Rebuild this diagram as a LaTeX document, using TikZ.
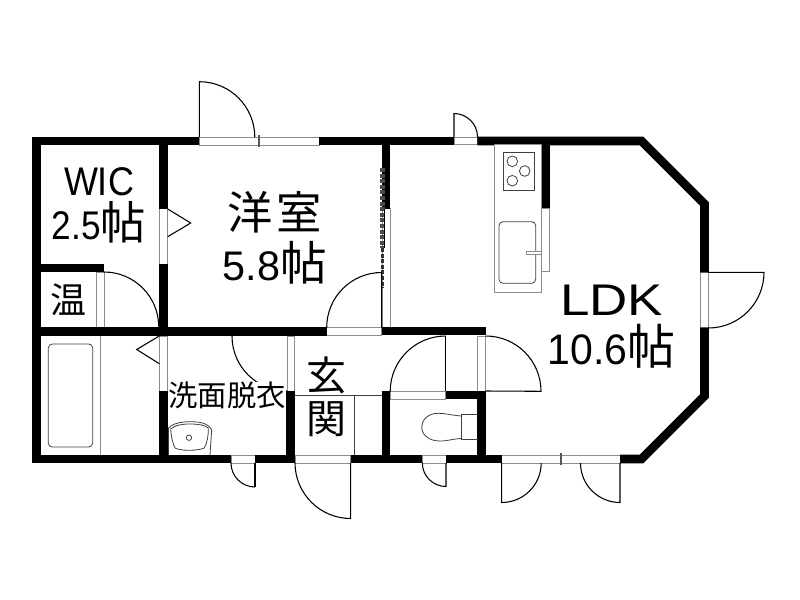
\documentclass[tikz,border=0pt]{standalone}
\usepackage{fontspec}
\setmainfont{Liberation Sans}
\newfontfamily\cjk{Noto Sans CJK JP}
\usepackage{graphicx}
\newcommand{\jtext}[2]{{\cjk\fontsize{#1}{#1}\selectfont #2}}

\tikzset{
  wall/.style={line width=6.4pt,line join=miter},
  strip/.style={draw=framegray,fill=white,line width=0.75pt},
  swing/.style={black,line width=0.8pt},
  fixture/.style={draw=framegray,line width=0.75pt},
  thinline/.style={black!75,line width=0.6pt},
  roomlabel/.style={align=center,inner sep=0pt}
}
\definecolor{framegray}{RGB}{140,140,140}

\begin{document}
\begin{tikzpicture}[x=0.75pt,y=0.75pt,yscale=-1,xscale=1]
\path [fill=white,use as bounding box] (0,0) rectangle (800,600);

%Door and window strips
\draw [strip] (199.3,137) rectangle (319,145);
\draw [strip] (159.5,208.5) rectangle (167.5,264);
\draw [strip] (96,272) rectangle (104,327);
\draw [strip] (159.5,336) rectangle (167.5,391);
\draw [strip] (287,336) rectangle (294.3,391);
\draw [strip] (326.7,327.5) rectangle (381.7,335);
\draw [strip] (382,208.5) rectangle (390.5,327.5);
\draw [strip] (390,391) rectangle (445.7,399);
\draw [strip] (477.7,336) rectangle (485.5,391);
\draw [strip] (454,137) rectangle (477.3,144.5);
\draw [strip] (541.7,208) rectangle (549,271.7);
\draw [strip] (700.7,272.3) rectangle (708,327.7);
\draw [strip] (231,455) rectangle (255,463);
\draw [strip] (295,455) rectangle (350.7,463);
\draw [strip] (422.3,455) rectangle (446,463);
\draw [strip] (501.7,455) rectangle (620,463);

%Outer walls
\draw [wall] (199.3,141) -- (36.5,141) -- (36.5,459) -- (231,459);
\draw [wall] (319,141) -- (454,141);
\draw [wall] (477.3,141) -- (641.5,141) -- (704.5,204) -- (704.5,272.3);
\draw [wall] (704.5,327.7) -- (704.5,396) -- (641.5,459) -- (620,459);
\draw [wall] (255,459) -- (295,459);
\draw [wall] (350.7,459) -- (422.3,459);
\draw [wall] (446,459) -- (501.7,459);

%Inner walls
\draw [wall] (163.5,141) -- (163.5,208.5);
\draw [wall] (163.5,264) -- (163.5,336);
\draw [wall] (163.5,391) -- (163.5,459);
\draw [wall] (32,268) -- (104,268);
\draw [wall] (36.5,331.5) -- (326.7,331.5);
\draw [wall] (381.7,331.2) -- (485.7,331.2);
\draw [wall] (290.5,391) -- (290.5,459);
\draw [wall] (386,141) -- (386,208.5);
\draw [wall] (386,391) -- (386,459);
\draw [wall] (445.7,395) -- (481.7,395) -- (481.7,459);
\draw [wall] (545.5,141) -- (545.5,208);

%Sliding door
\draw [black!70,line width=3.2pt,dash pattern=on 3pt off 1.2pt] (382.5,168) -- (382.5,248);
\draw [black,line width=0.8pt] (384.7,208.5) -- (384.7,248);
\draw [black!80,line width=2pt,dash pattern=on 3pt off 1.2pt] (382.3,248) -- (382.3,288);
\draw [swing] (381.7,288) -- (381.7,327);

%Door swings
\draw [swing] (199.3,137) -- (199.3,81.7) arc (-90:0:55.5);
\draw [swing] (454,137) -- (454,113.5) arc (-90:0:23.5);
\draw [swing] (326.7,327.5) arc (180:270:55) -- (381.7,327.5);
\draw [swing] (167.7,209) -- (190.7,223) -- (167.7,236.7);
\draw [swing] (159.3,336) -- (136.7,349.5) -- (159.3,363.7);
\draw [swing] (104,272) arc (-90:0:54.7);
\draw [swing] (232,336) arc (180:90:55);
\draw [swing] (445.7,336) arc (270:180:55.5);
\draw [swing] (445.7,336) -- (445.7,391);
\draw [swing] (485.7,336) arc (-90:0:55.3) -- (485.7,391);
\draw [swing] (708,272.3) -- (764,272.3) arc (0:90:55.7);
\draw [swing] (255,486.5) -- (255,463);
\draw [swing] (231,463) arc (180:90:24);
\draw [swing] (350.7,463) -- (350.7,518.5) arc (90:180:55.7);
\draw [swing] (446,463) -- (446,486.5) arc (90:180:23.7);
\draw [swing] (501.7,463) -- (501.7,502.5) arc (90:0:39.5);
\draw [swing] (620,463) -- (620,502.5) arc (90:180:39.5);

%Window ticks
\draw [swing,framegray!60!black] (259,135) -- (259,147);
\draw [swing,framegray!60!black] (561,453) -- (561,465);

%Entrance step and bath partition
\draw [thinline] (294.3,395.3) -- (381.7,395.3);
\draw [thinline] (354.3,395.3) -- (354.3,455);
\draw [fixture] (100,336) -- (100,455);
\draw [thinline,rounded corners=3pt] (48.3,344) rectangle (92.7,447);

%Kitchen
\draw [fixture,fill=white] (494.7,144.5) rectangle (541.5,292.3);
\draw [thinline] (503.3,152) rectangle (534.3,190);
\draw [thinline] (512.3,161.3) circle (5.3);
\draw [thinline] (524.7,171) circle (5.3);
\draw [thinline] (512.3,180.7) circle (5.3);
\draw [thinline,rounded corners=3pt] (499,221.7) rectangle (535.7,283.3);
\draw [fixture,fill=white] (526.7,251) rectangle (541.3,254.7);

%Toilet
\draw [thinline] (477.7,414.7) -- (461,414.7) -- (461,439.3) -- (477.7,439.3);
\draw [thinline] (461,416) .. controls (450,415) and (446,413.3) .. (438,413.3) .. controls (428,413.3) and (421.7,420) .. (421.7,427) .. controls (421.7,435) and (429,441) .. (440,441) .. controls (448,441) and (452,439) .. (461,438.5);

%Wash basin
\draw [thinline] (168.5,455) -- (168.5,428) .. controls (172,424) and (180,421.7) .. (190,421.7) .. controls (200,421.7) and (208,423) .. (211.7,430) -- (210,455);
\draw [thinline] (170.7,429) .. controls (175,425) and (182,424) .. (190,424) .. controls (198,424) and (205,425) .. (208.3,428) .. controls (208.5,436) and (207,443) .. (204.3,448) .. controls (198,451) and (180,451) .. (175,448) .. controls (172.5,443) and (171,436) .. (170.7,429);
\draw [thinline] (189,437.7) circle (2.7);

% Text nodes
\node [roomlabel,font=\fontsize{30}{33}\selectfont] (wic) at (99,205) {\scalebox{.9}[1]{WIC}\\\scalebox{.88}[1]{2.5}\jtext{34}{帖}};
\node [roomlabel,font=\fontsize{31}{38}\selectfont] (room) at (275,238) {\jtext{34}{洋\hspace{3pt}室}\\5.8\jtext{35}{帖}};
\node [roomlabel,font=\fontsize{32}{36.75}\selectfont] (ldk) at (611.5,327) {\scalebox{1.24}[1.04]{LDK}\\\scalebox{.96}[1]{10.6}\jtext{36}{帖}};
\node [roomlabel,font=\cjk\fontsize{27}{30}\selectfont] (onsui) at (68,300) {温};
\node [roomlabel,fill=white,font=\cjk\fontsize{22}{26}\selectfont] (senmen) at (227,395.5) {洗面脱衣};
\node [roomlabel,font=\cjk\fontsize{30}{32.5}\selectfont] (genkan) at (326,397) {玄\\関};
\end{tikzpicture}
\end{document}
